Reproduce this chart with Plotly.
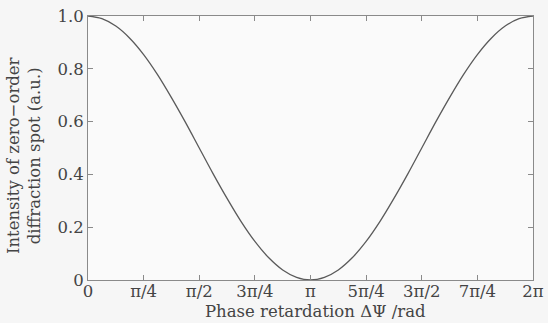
import math
import plotly.graph_objects as go

# phase retardation samples (in units of pi/16) and intensity
phase_steps = list(range(0, 33))
intensity = [1.000, 0.990, 0.962, 0.916, 0.854, 0.778, 0.691, 0.598, 0.500, 0.402, 0.309,
             0.222, 0.146, 0.084, 0.038, 0.010, 0.000, 0.010, 0.038, 0.084, 0.146, 0.222,
             0.309, 0.402, 0.500, 0.598, 0.691, 0.778, 0.854, 0.916, 0.962, 0.990, 1.000]

x_tick_vals = [0, 1, 2, 3, 4, 5, 6, 7, 8]  # quarter-pi multiples
x_tick_text = ["0", "π/4", "π/2", "3π/4", "π", "5π/4", "3π/2", "7π/4", "2π"]
y_tick_vals = [0, 0.2, 0.4, 0.6, 0.8, 1.0]
y_tick_text = ["0", "0.2", "0.4", "0.6", "0.8", "1.0"]
x_title = "Phase retardation ΔΨ /rad"
y_title = "Intensity of zero−order<br>diffraction spot (a.u.)"

x = [k * math.pi / 16 for k in phase_steps]

fig = go.Figure()
fig.add_trace(go.Scatter(x=x, y=intensity, mode="lines",
                         line=dict(color="#5a5a5a", width=1.3, shape="spline", smoothing=1.0),
                         showlegend=False, hoverinfo="skip"))

font = dict(family="DejaVu Serif", size=16.5, color="#444444")
axis_common = dict(showline=True, linecolor="#8a8a8a", linewidth=1, mirror="ticks", ticks="inside",
                   ticklen=5, tickcolor="#8a8a8a", showgrid=False, zeroline=False, tickfont=font,
                   automargin=False)

fig.update_xaxes(range=[0, 2 * math.pi], tickvals=[v * math.pi / 4 for v in x_tick_vals], ticktext=x_tick_text,
                 ticklabelstandoff=-4, **axis_common)
fig.update_yaxes(range=[0, 1.0], tickvals=y_tick_vals, ticktext=y_tick_text, **axis_common)

fig.add_annotation(text=x_title, xref="paper", yref="paper", x=0.512, y=-0.121,
                   xanchor="center", yanchor="middle", showarrow=False, font=font)
fig.add_annotation(text=y_title, xref="paper", yref="paper", x=-0.144, y=0.473,
                   xanchor="center", yanchor="middle", showarrow=False, font=font, textangle=-90)

fig.update_layout(width=548, height=323, margin=dict(l=88, r=15, t=16, b=43),
                  paper_bgcolor="#f6f6f6", plot_bgcolor="#fafafa")

fig.write_html("out.html")
